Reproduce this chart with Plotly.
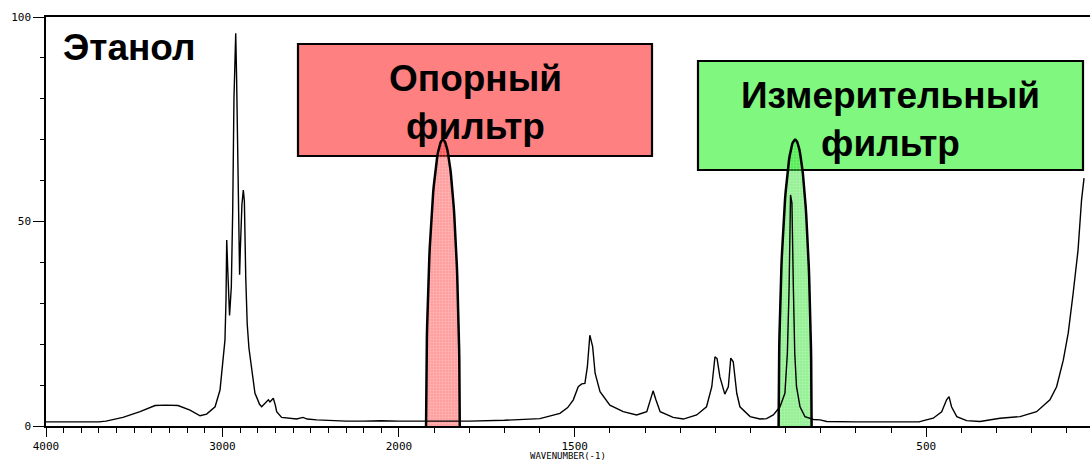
import numpy as np
import plotly.graph_objects as go

# ---------------- data ----------------
wavenumber = [4000, 3800, 3700, 3660, 3620, 3564, 3467, 3400, 3382, 3320, 3252, 3184, 3127, 3090,
              3042, 3014, 2995, 2986, 2980, 2976, 2970, 2960, 2950, 2942, 2935, 2928, 2925, 2920,
              2916, 2908, 2903, 2899, 2890, 2882, 2876, 2868, 2860, 2850, 2835, 2816, 2806, 2790,
              2778, 2759, 2740, 2731, 2712, 2700, 2693, 2665, 2620, 2580, 2544, 2520, 2466, 2391,
              2300, 2200, 2100, 2000,
              1950, 1800, 1700, 1650, 1599, 1542, 1520, 1504, 1490, 1480, 1471, 1464, 1457, 1449,
              1442, 1428, 1400, 1362, 1324, 1295, 1284, 1277, 1269, 1257, 1220, 1191, 1153, 1125,
              1110, 1101, 1095, 1087, 1073, 1063, 1056, 1049, 1039, 1030, 1001, 973, 954, 935, 916,
              902, 895, 890, 886, 882, 878, 874, 869, 859, 845, 821, 802, 783, 700, 600, 520, 508,
              480, 456, 442, 435, 428, 413, 385, 347, 290, 233, 186, 148, 129, 110, 96, 82, 68, 58, 51]
absorbance = [1.0, 1.0, 1.0, 1.2, 1.5, 2.1, 3.5, 4.7, 5.0, 5.1, 5.0, 3.9, 2.5, 2.9,
              4.7, 8.8, 16, 21, 31, 45.5, 38, 27, 34, 52.8, 80, 93, 96, 85,
              75, 47, 37, 43, 54, 57.7, 55, 36, 25, 19, 14, 8, 7, 5.3,
              4.7, 5.6, 6.4, 5.9, 6.8, 5.0, 3.5, 2.1, 1.8, 1.7, 2.1, 1.7, 1.5, 1.3,
              1.2, 1.2, 1.3, 1.2,
              1.2, 1.2, 1.4, 1.6, 1.8, 3.1, 4.5, 6.4, 9.6, 10.3, 10.4, 14.5, 22.2, 19.4,
              12.9, 8.4, 5.1, 3.5, 2.7, 3.5, 6.4, 8.6, 6.4, 3.5, 2.1, 1.7, 2.7, 4.7,
              9.6, 16.9, 16.5, 12, 7.8, 9.6, 16.6, 15.7, 8, 4.7, 2.3, 1.7, 1.8, 2.7, 4.7,
              8, 17.8, 34, 56.5, 54.5, 34, 17.8, 9.6, 4.7, 2.3, 1.6, 1.5, 1.1, 1.0, 1.0, 1.0, 1.3,
              1.9, 3.5, 6.4, 7.2, 4.7, 2.3, 1.3, 1.1, 1.9, 2.3, 3.5, 6.4, 9.6, 16.1, 22.7, 32.4, 43, 55.3, 60.6]

x_major_hi = [4000, 3000, 2000]
x_major_lo = [1500, 500]
y_major = [0, 50, 100]

filter_names = ["Опорный<br>фильтр", "Измерительный<br>фильтр"]
filter_center = [1875, 873]
filter_halfwidth = [48, 47]
filter_top = [70, 70]
filter_fill = ["rgba(255,40,40,0.45)", "rgba(40,225,40,0.5)"]
box_fill = ["#FF8080", "#80F880"]

title_text = "Этанол"
x_title = "WAVENUMBER(-1)"

# ---------------- layout geometry ----------------
W, H = 1090, 462
L, T, B = 46, 17, 36
split = 0.3381

wn = np.array(wavenumber, dtype=float)
ab = np.array(absorbance, dtype=float)
hi = wn >= 2000
lo = wn <= 2000

fig = go.Figure()

# filters (half-ellipse outlines)
t = np.linspace(0, np.pi, 80)
for c, hw, top, fc in zip(filter_center, filter_halfwidth, filter_top, filter_fill):
    fx = np.concatenate([c + hw * np.cos(t), [c - hw, c + hw]])
    fy = np.concatenate([-0.5 + (top + 0.5) * np.sin(t), [-0.5, -0.5]])
    fig.add_trace(go.Scatter(
        x=fx, y=fy, xaxis="x2", yaxis="y", mode="lines",
        line=dict(color="black", width=2.5), fill="toself", fillcolor=fc,
        fillpattern=dict(shape=".", fgcolor="rgba(255,255,255,0.55)", size=3, solidity=0.35),
        hoverinfo="skip", showlegend=False))

# spectrum
fig.add_trace(go.Scatter(x=wn[hi], y=ab[hi], xaxis="x", yaxis="y", mode="lines",
                         line=dict(color="black", width=1.4), showlegend=False))
fig.add_trace(go.Scatter(x=wn[lo], y=ab[lo], xaxis="x2", yaxis="y", mode="lines",
                         line=dict(color="black", width=1.4), showlegend=False))

pw = W - L
ph = H - T - B
def px(x):
    return (x - L) / pw
def py(y):
    return (H - B - y) / ph

# boxes
boxes = [(298, 652, 44, 156), (698, 1083, 61, 170)]
for (x0, x1, y0, y1), bf in zip(boxes, box_fill):
    fig.add_shape(type="rect", xref="paper", yref="paper",
                  x0=px(x0), x1=px(x1), y0=py(y1), y1=py(y0),
                  fillcolor=bf, line=dict(color="black", width=2.2), layer="below")

lab_font = dict(family="Liberation Sans, Arial, sans-serif", size=37, color="black")
fig.add_annotation(text="<b>" + title_text + "</b>", xref="paper", yref="paper",
                   x=px(61), y=py(47), xanchor="left", yanchor="middle",
                   showarrow=False, font=lab_font)
centers = [(475, 102), (890.5, 119)]
for name, (cx, cy) in zip(filter_names, centers):
    fig.add_annotation(text="<b>" + name + "</b>", xref="paper", yref="paper",
                       x=px(cx), y=py(cy), xanchor="center", yanchor="middle",
                       showarrow=False, font=lab_font)

fig.add_annotation(text=x_title, xref="paper", yref="paper", x=px(568), y=py(455.5),
                   xanchor="center", yanchor="middle", showarrow=False,
                   font=dict(family="DejaVu Sans Mono, monospace", size=9, color="black"))

tick_font = dict(family="DejaVu Sans Mono, monospace", size=11, color="black")
axis_common = dict(showline=True, linecolor="black", linewidth=1.5, mirror=True,
                   ticks="outside", ticklen=9, tickwidth=1, tickcolor="black",
                   showgrid=False, zeroline=False, tickfont=tick_font, tickmode="array",
                   automargin=False)

fig.update_layout(
    width=W, height=H, autosize=False, margin=dict(l=L, r=0, t=T, b=B, autoexpand=False),
    paper_bgcolor="white", plot_bgcolor="white", showlegend=False,
    xaxis=dict(domain=[0, split], range=[4000, 2000], anchor="y",
               tickvals=x_major_hi, ticktext=[str(v) for v in x_major_hi],
               minor=dict(tickmode="array", tickvals=list(range(2000, 4001, 100)),
                          ticks="outside", ticklen=5, tickcolor="black", tickwidth=1),
               **axis_common),
    xaxis2=dict(domain=[split, 1], range=[2000, 34], anchor="y",
                tickvals=x_major_lo, ticktext=[str(v) for v in x_major_lo],
                minor=dict(tickmode="array", tickvals=list(range(100, 2001, 100)),
                           ticks="outside", ticklen=5, tickcolor="black", tickwidth=1),
                **axis_common),
    yaxis=dict(domain=[0, 1], range=[0, 100], anchor="x",
               tickvals=y_major, ticktext=[str(v) for v in y_major],
               minor=dict(tickmode="array", tickvals=list(range(0, 101, 10)),
                          ticks="outside", ticklen=4, tickcolor="black", tickwidth=1),
               **{**axis_common, "mirror": False, "ticklen": 11}),
)

fig.write_html("out.html", config={"responsive": False})
